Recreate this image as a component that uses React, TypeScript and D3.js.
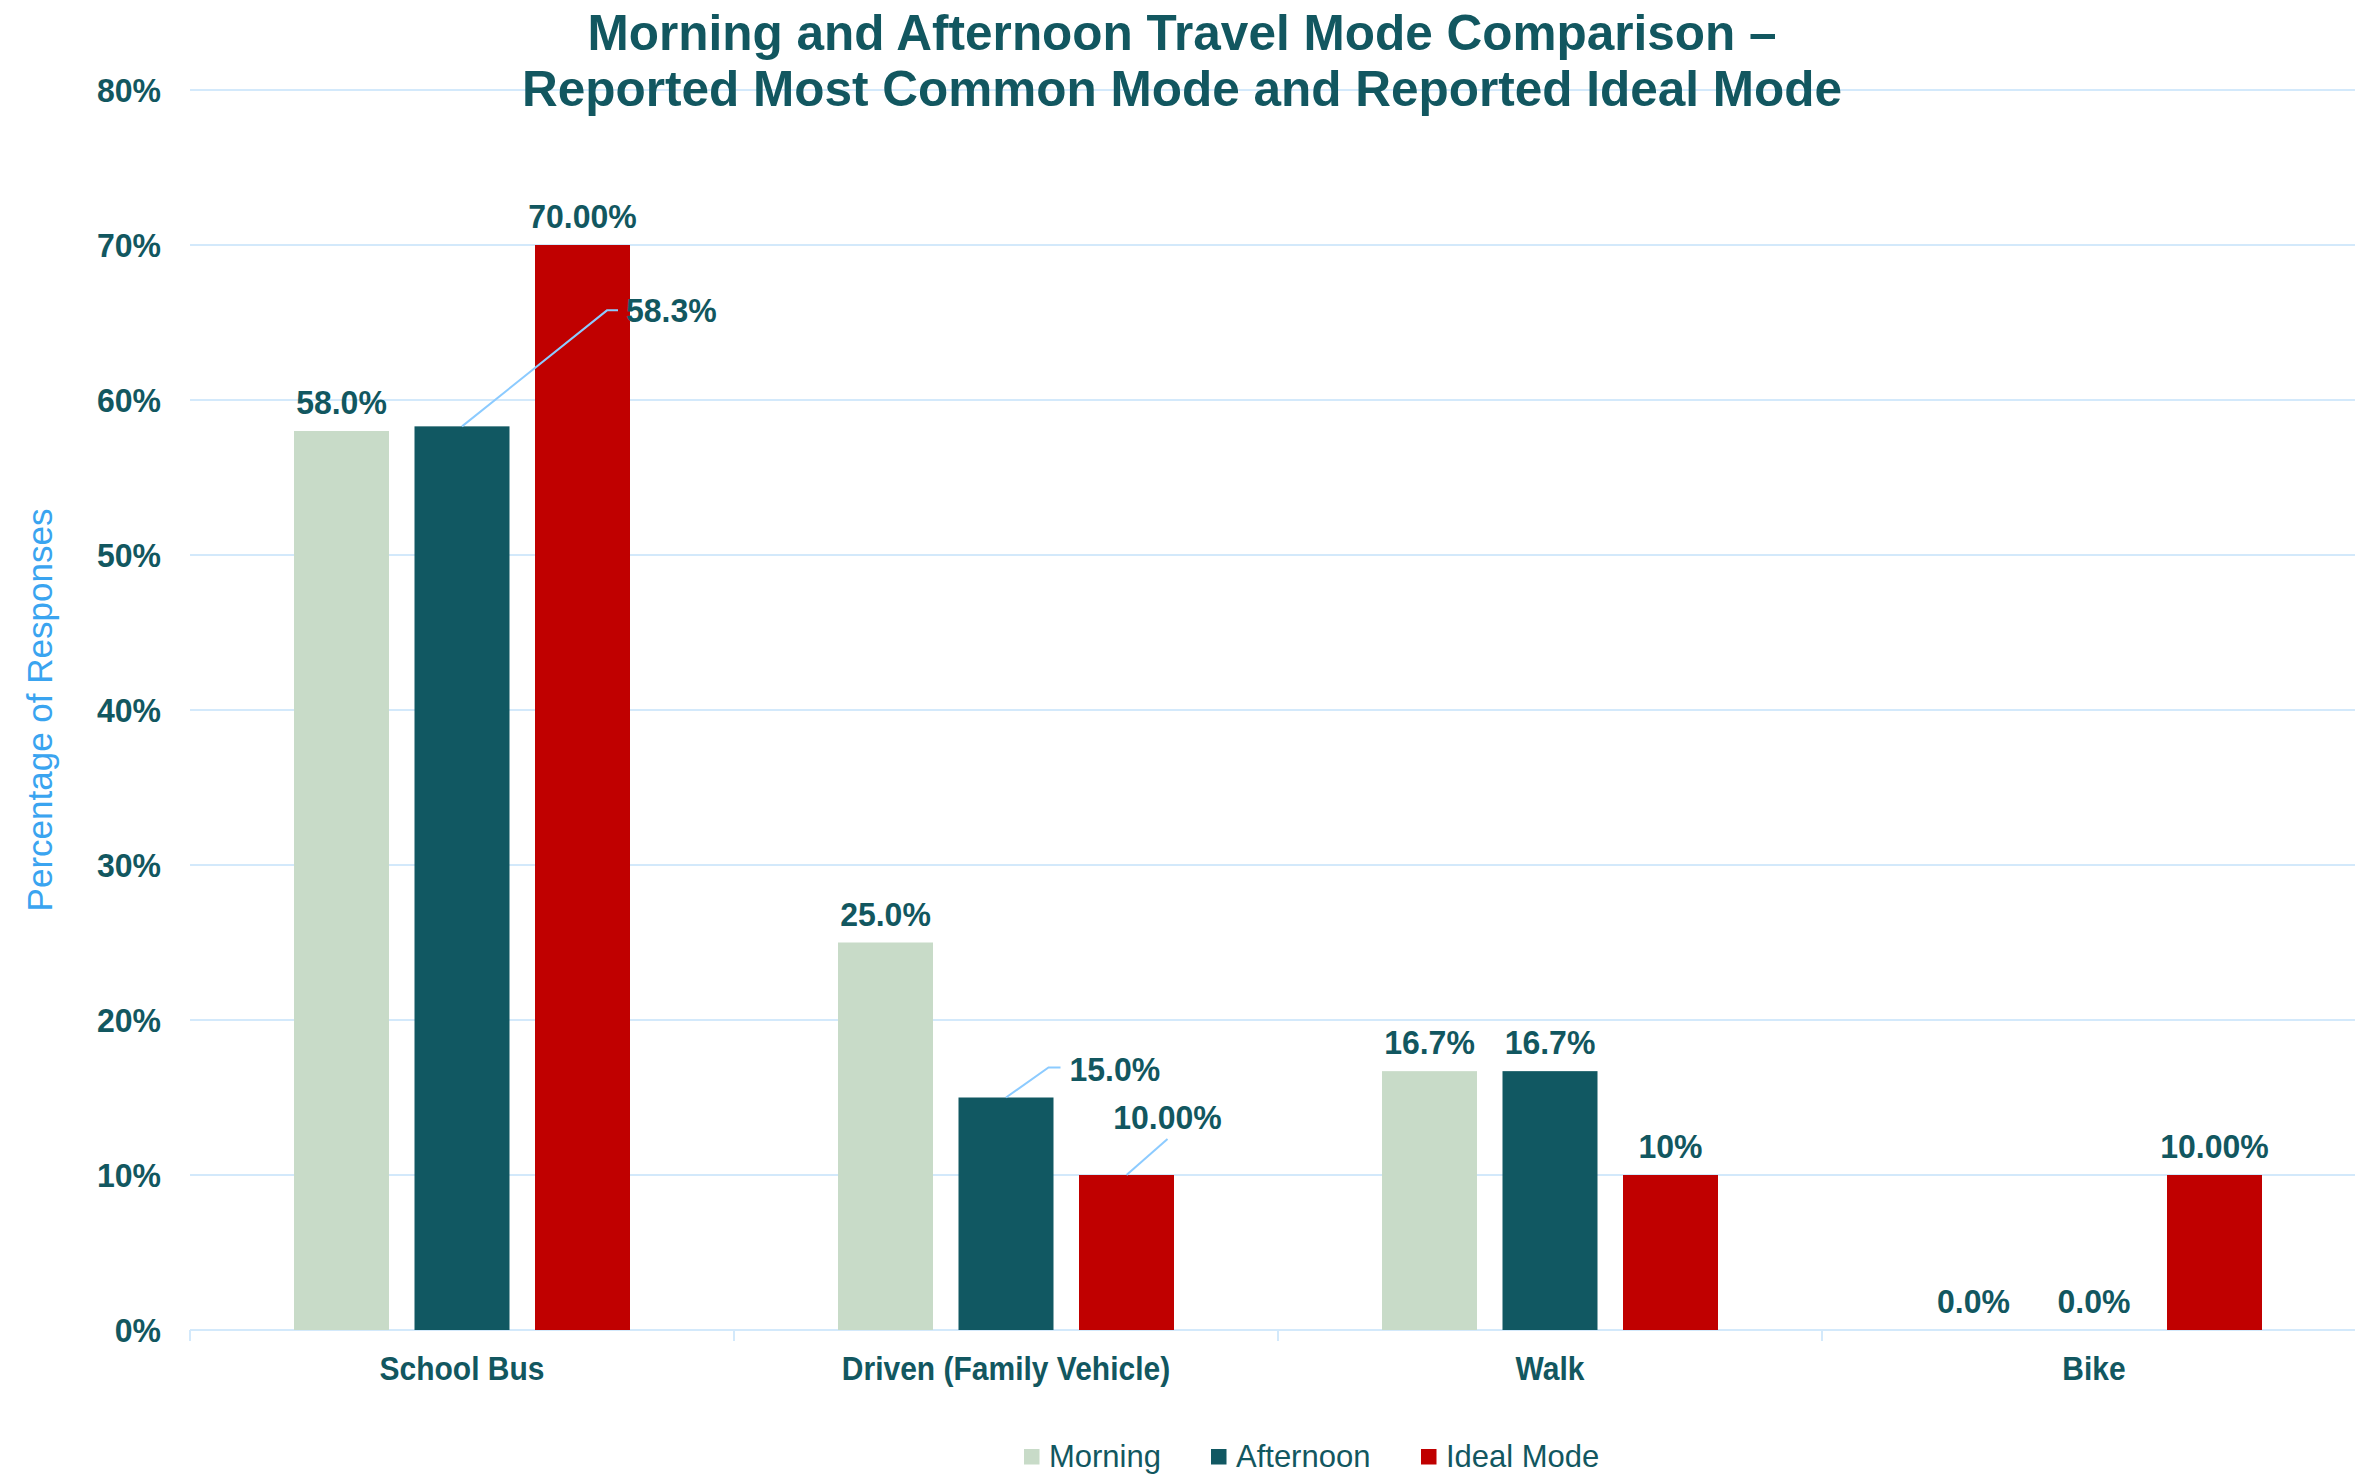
import React from "react";
import * as d3 from "d3";

const categories = ["School Bus", "Driven (Family Vehicle)", "Walk", "Bike"];
const seriesNames = ["Morning", "Afternoon", "Ideal Mode"];
const morningValues = [0.58, 0.25, 0.167, 0.0];
const afternoonValues = [0.583, 0.15, 0.167, 0.0];
const idealValues = [0.7, 0.1, 0.1, 0.1];
const morningLabels = ["58.0%", "25.0%", "16.7%", "0.0%"];
const afternoonLabels = ["58.3%", "15.0%", "16.7%", "0.0%"];
const idealLabels = ["70.00%", "10.00%", "10%", "10.00%"];
const yTicks = [0, 0.1, 0.2, 0.3, 0.4, 0.5, 0.6, 0.7, 0.8];
const titleLines = [
  "Morning and Afternoon Travel Mode Comparison –",
  "Reported Most Common Mode and Reported Ideal Mode",
];
const yAxisTitle = "Percentage of Responses";

const W = 2355;
const H = 1475;
const FONT = "'Liberation Sans', Arial, Helvetica, sans-serif";
const TEXT = "#125760";
const COLORS = ["#C8DBC8", "#115862", "#C00000"];
const GRID = "#D3E9FB";
const LEADER = "#8CCBFF";

// leader-label placements (pixel offsets relative to bar top-centre)
const leaderStyles: Record<string, any> = {
  "1-0": { pts: [[0, 0], [145, -116], [156, -116]], tx: 164, ty: -104, anchor: "start" },
  "1-1": { pts: [[0, 0], [42.5, -30], [54.5, -30]], tx: 63.5, ty: -17, anchor: "start" },
  "2-1": { pts: [[0, 0], [41, -36]], tx: 41, ty: -46, anchor: "middle" },
};

export default function App() {
  const plotLeft = 190;
  const plotRight = 190 + 544 * 4;
  const y = d3.scaleLinear().domain([0, 0.8]).range([1330, 90]);
  const x0 = d3.scaleBand<string>().domain(categories).range([plotLeft, plotRight]).padding(0);
  const x1 = d3
    .scaleBand<string>()
    .domain(seriesNames)
    .range([104, x0.bandwidth() - 104])
    .paddingInner(0.2116)
    .paddingOuter(0);

  const values = [morningValues, afternoonValues, idealValues];
  const labels = [morningLabels, afternoonLabels, idealLabels];
  const tickPct = d3.format(".0%");

  const line = d3.line();

  const label = (x: number, yy: number, txt: string, anchor: string, key: string) => (
    <text
      key={key}
      transform={`translate(${x},${yy}) scale(1,1.05)`}
      textAnchor={anchor as any}
      fontSize={32}
      fontWeight="bold"
      fill={TEXT}
    >
      {txt}
    </text>
  );

  return (
    <svg
      width={W}
      height={H}
      style={{ position: "absolute", left: 0, top: 0, background: "#fff" }}
      fontFamily={FONT}
    >
      <rect x={0} y={0} width={W} height={H} fill="#fff" />
      {/* gridlines */}
      {yTicks.map((t) => (
        <line key={t} x1={plotLeft} x2={plotRight} y1={y(t)} y2={y(t)} stroke={GRID} strokeWidth={2} />
      ))}
      {/* category tick marks */}
      {d3.range(categories.length + 1).map((i) => {
        const xx = plotLeft + i * x0.step();
        return <line key={i} x1={xx} x2={xx} y1={y(0)} y2={y(0) + 11} stroke={GRID} strokeWidth={2} />;
      })}
      {/* y tick labels */}
      {yTicks.map((t) => (
        <text
          key={t}
          transform={`translate(161,${y(t)}) scale(1,1.05)`}
          dy="0.36em"
          textAnchor="end"
          fontSize={32}
          fontWeight="bold"
          fill={TEXT}
        >
          {tickPct(t)}
        </text>
      ))}
      {/* bars */}
      {categories.map((c, ci) => (
        <g key={c} transform={`translate(${x0(c)},0)`}>
          {seriesNames.map((s, si) => {
            const v = values[si][ci];
            const bx = x1(s)!;
            const bw = x1.bandwidth();
            return (
              <rect
                key={s}
                x={bx}
                y={y(v)}
                width={bw}
                height={y(0) - y(v)}
                fill={COLORS[si]}
              />
            );
          })}
        </g>
      ))}
      {/* data labels */}
      {categories.map((c, ci) =>
        seriesNames.map((s, si) => {
          const v = values[si][ci];
          const cx = x0(c)! + x1(s)! + x1.bandwidth() / 2;
          const top = y(v);
          const key = `${si}-${ci}`;
          const ls = leaderStyles[key];
          if (ls) {
            const pts = ls.pts.map((p: number[]) => [cx + p[0], top + p[1]]) as [number, number][];
            return (
              <g key={key}>
                <path d={line(pts) || ""} fill="none" stroke={LEADER} strokeWidth={2} />
                {label(cx + ls.tx, top + ls.ty, labels[si][ci], ls.anchor, key + "t")}
              </g>
            );
          }
          return label(cx, top - 17, labels[si][ci], "middle", key);
        })
      )}
      {/* category labels */}
      {categories.map((c) => (
        <text
          key={c}
          transform={`translate(${x0(c)! + x0.bandwidth() / 2},1380) scale(1,1.1)`}
          textAnchor="middle"
          fontSize={30}
          fontWeight="bold"
          fill={TEXT}
        >
          {c}
        </text>
      ))}
      {/* title */}
      {titleLines.map((t, i) => (
        <text
          key={i}
          x={1182}
          y={50 + i * 56}
          textAnchor="middle"
          fontSize={49.5}
          fontWeight="bold"
          fill={TEXT}
        >
          {t}
        </text>
      ))}
      {/* y axis title */}
      <text
        transform={`translate(52,710) rotate(-90)`}
        textAnchor="middle"
        fontSize={35}
        fill="#3AA4F0"
      >
        {yAxisTitle}
      </text>
      {/* legend */}
      {[1024, 1211, 1421].map((lx, i) => (
        <g key={seriesNames[i]} transform={`translate(${lx},1449)`}>
          <rect x={0} y={0} width={15.5} height={15.5} fill={COLORS[i]} />
          <text transform="translate(25,18) scale(1,1.04)" fontSize={31} fill={TEXT}>
            {seriesNames[i]}
          </text>
        </g>
      ))}
    </svg>
  );
}
